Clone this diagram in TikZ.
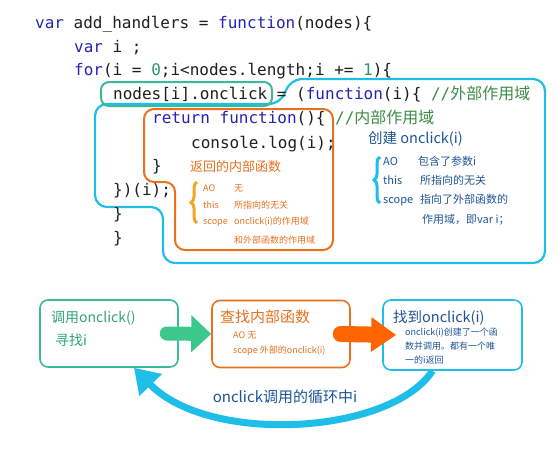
\documentclass[tikz,border=0pt]{standalone}
\usepackage{fontspec}
\setmainfont{Noto Sans CJK SC}
\setmonofont{DejaVu Sans Mono}
\newfontfamily\cjk{Noto Sans CJK SC}
\usetikzlibrary{arrows.meta,decorations.pathreplacing}

\definecolor{codeink}{RGB}{30,30,30}
\definecolor{kwblue}{RGB}{35,35,180}
\definecolor{cmtgreen}{RGB}{60,140,70}
\definecolor{numgreen}{RGB}{40,150,110}
\definecolor{tealc}{RGB}{60,185,150}
\definecolor{cyanc}{RGB}{30,190,232}
\definecolor{orangec}{RGB}{232,112,30}
\definecolor{braceorange}{RGB}{245,165,40}
\definecolor{noteblue}{RGB}{30,85,150}
\definecolor{greenarrow}{RGB}{60,200,140}
\definecolor{orangearrow}{RGB}{255,100,0}
\definecolor{callgreen}{RGB}{50,165,120}

\newcommand{\kw}[1]{\textcolor{kwblue}{#1}}
\newcommand{\cmt}[1]{\textcolor{cmtgreen}{//{\cjk #1}}}
\newcommand{\nm}[1]{\textcolor{numgreen}{#1}}

\begin{document}
\begin{tikzpicture}[x=1pt,y=-1pt,
  code/.style={anchor=base west, inner sep=0pt, text=codeink,
    font=\ttfamily\fontsize{16}{16}\selectfont},
  note/.style={anchor=base west, inner sep=0pt},
  bracemark/.style={decorate, decoration={brace, amplitude=6pt}, line width=3pt},
  flowbox/.style={draw, line width=1.6pt, rounded corners=8pt, fill=white,
    minimum width=138pt, minimum height=67pt}]
\useasboundingbox (0,0) rectangle (560,450);

% scopes round the code
\draw[cyanc, line width=2.2pt, rounded corners=12pt]
  (95,160) -- (95,104) -- (281,104) -- (290,79) -- (545,79) -- (545,263)
  -- (163,263) -- (163,207) -- (95,207) -- cycle;
\draw[orangec, line width=2pt, rounded corners=10pt]
  (144,150) -- (144,109) -- (333,109) -- (333,250) -- (175,250)
  -- (175,182) -- (144,182) -- cycle;
\draw[tealc, line width=2pt, rounded corners=8pt] (101,82) rectangle (272,106);

% code lines
\node[code] (l1) at (35,28) {\kw{var} add\_handlers = \kw{function}(nodes)\{};
\node[code] (l2) at (74,52) {\kw{var} i ;};
\node[code] (l3) at (74,75) {\kw{for}(i = \nm{0};i<nodes.length;i += \nm{1})\{};
\node[code] (l4) at (113,99) {nodes[i].onclick = (\kw{function}(i)\{ \cmt{外部作用域}};
\node[code] (l5) at (152,123) {\kw{return} \kw{function}()\{ \cmt{内部作用域}};
\node[code] (l6) at (191,148) {console.log(i);};
\node[code] (l7) at (152,171) {\}};
\node[code] (l8) at (113,195) {\})(i);};
\node[code] (l9) at (113,219) {\}};
\node[code] (l10) at (113,243) {\}};

% inner function notes
\node[note, text=orangec, font=\fontsize{13}{13}\selectfont] (retnote) at (190,171) {返回的内部函数};
\draw[bracemark, braceorange] (197,223) -- (197,182);
\begin{scope}[every node/.style={note, text=orangec, font=\fontsize{9}{9}\selectfont}]
\node (inao) at (203,191) {\makebox[31pt][l]{AO}无};
\node (inthis) at (203,208) {\makebox[31pt][l]{this}所指向的无关};
\node (inscope) at (203,224) {\makebox[31pt][l]{scope}onclick(i)的作用域};
\node (inscope2) at (234,243) {和外部函数的作用域};
\end{scope}

% outer function notes
\node[note, text=noteblue, font=\fontsize{14.5}{14.5}\selectfont] (mknote) at (368,143) {创建 onclick(i)};
\draw[bracemark, cyanc] (380,203) -- (380,157);
\begin{scope}[every node/.style={note, text=noteblue, font=\fontsize{11}{11}\selectfont}]
\node (outao) at (383,165) {\makebox[35pt][l]{AO}包含了参数i};
\node (outthis) at (383,184) {\makebox[37pt][l]{this}所指向的无关};
\node (outscope) at (383,203) {\makebox[37pt][l]{scope}指向了外部函数的};
\node (outscope2) at (422,223) {作用域，即var i；};
\end{scope}

% lookup flow
\node[flowbox, draw=tealc] (callbox) at (109,333.5) {};
\node[flowbox, draw=orangec] (lookbox) at (281,334) {};
\node[flowbox, draw=cyanc, minimum width=139pt, minimum height=70pt] (foundbox) at (452.5,335) {};

\node[note, text=callgreen, font=\fontsize{14}{14}\selectfont] (calltitle) at (51,322) {调用onclick()};
\node[note, text=callgreen, font=\fontsize{14}{14}\selectfont] (callsub) at (55,345) {寻找i};
\node[note, text=orangec, font=\fontsize{15}{15}\selectfont] (looktitle) at (220,322) {查找内部函数};
\node[note, text=orangec, font=\fontsize{9}{9}\selectfont] (lookao) at (233,338) {AO 无};
\node[note, text=orangec, font=\fontsize{9}{9}\selectfont] (lookscope) at (233,353) {scope 外部的onclick(i)};
\node[note, text=noteblue, font=\fontsize{14.5}{14.5}\selectfont] (foundtitle) at (393,322) {找到onclick(i)};
\begin{scope}[every node/.style={note, text=noteblue, font=\fontsize{9}{9}\selectfont}]
\node (found1) at (405,335) {onclick(i)创建了一个函};
\node (found2) at (405,349) {数并调用。都有一个唯};
\node (found3) at (405,363) {一的i返回};
\end{scope}

\draw[greenarrow, line width=14pt, line cap=round, -{Triangle[length=20pt,width=36pt]}]
  ([xshift=-12pt]callbox.east) -- (lookbox.west);
\draw[orangearrow, line width=16pt, line cap=round, -{Triangle[length=25pt,width=33pt]}]
  ([xshift=-10pt]lookbox.east) -- ([xshift=14pt]foundbox.west);
\draw[cyanc, line width=7pt, -{Triangle[length=24pt,width=30pt]}]
  ([xshift=-20pt]foundbox.south) .. controls (390,435) and (209,445) .. ([xshift=25pt]callbox.south);
\node[text=noteblue, font=\fontsize{15}{15}\selectfont] (looplabel) at (285,397) {onclick调用的循环中i};
\end{tikzpicture}
\end{document}
